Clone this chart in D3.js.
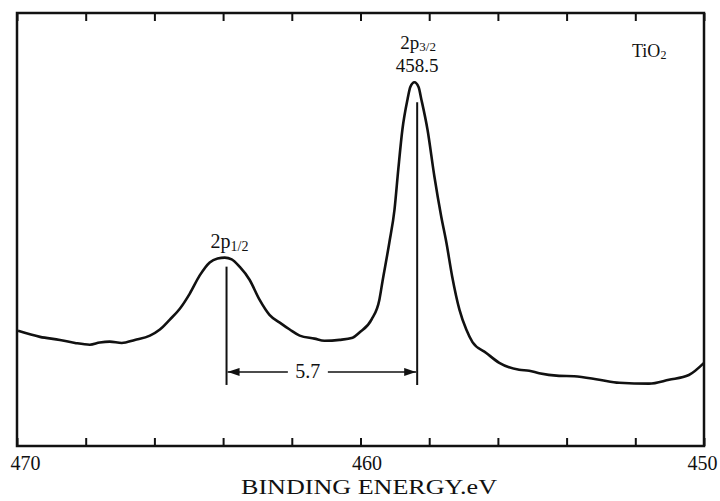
<!DOCTYPE html>
<html>
<head>
<meta charset="utf-8">
<script src="https://cdn.jsdelivr.net/npm/d3@7"></script>
<style>
  body { margin: 0; background: #fff; }
  svg text { font-family: "Liberation Serif", "Times New Roman", Times, "DejaVu Serif", "Noto Serif", serif; fill: #111; }
</style>
</head>
<body>
<div id="d3-container"></div>
<script>
// espectro XPS Ti 2p de TiO2
var energia = [469.97, 469.33, 468.75, 468.31, 467.88, 467.59, 467.30, 466.95, 466.57, 466.13,
  465.84, 465.55, 465.26, 464.97, 464.68, 464.39, 464.16, 463.95, 463.75, 463.52,
  463.23, 462.94, 462.65, 462.35, 462.06, 461.77, 461.34, 461.05, 460.61, 460.23,
  460.03, 459.68, 459.45, 459.36, 459.16, 459.01, 458.90, 458.78, 458.63, 458.55,
  458.43, 458.31, 458.23, 458.05, 457.85, 457.65, 457.50, 457.33, 457.12, 456.92,
  456.74, 456.34, 455.96, 455.38, 455.09, 454.80, 454.22, 453.78, 453.05, 452.47,
  451.60, 451.02, 450.44, 450.00];
var intensidad = [26.6, 25.2, 24.5, 23.8, 23.4, 23.9, 24.1, 23.8, 24.5, 25.5,
  26.9, 29.2, 31.7, 35.2, 39.4, 42.4, 43.3, 43.5, 43.1, 41.4,
  38.4, 33.8, 30.3, 28.5, 26.9, 25.5, 24.8, 24.3, 24.5, 25.0,
  26.2, 29.2, 33.8, 38.0, 47.0, 54.6, 63.9, 73.1, 80.1, 82.9,
  84.0, 82.9, 80.1, 73.1, 62.3, 53.0, 47.0, 39.1, 31.5, 26.9,
  24.0, 21.5, 19.2, 17.6, 17.4, 16.8, 16.2, 16.1, 15.3, 14.6,
  14.4, 15.3, 16.4, 19.2];

var ticksMayores = [470, 460, 450];
var ticksMenores = [470, 468, 466, 464, 462, 460, 458, 456, 454, 452, 450];

// picos marcados
var picoE = [463.9, 458.35];
var picoI = [43.5, 84.0];
var separacion = "5.7";
var nivelFlecha = 17.1;
var finLineas = 14.1;

var fuente = '"Liberation Serif", "Times New Roman", Times, serif';

var width = 720;
var height = 501;
var margin = { top: 13, bottom: 55, left: 17, right: 16 };

var svg = d3.select('#d3-container')
  .append('svg')
  .attr('width', width)
  .attr('height', height)
  .attr('font-family', fuente);

var x = d3.scaleLinear()
  .domain([470, 450])
  .range([margin.left, width - margin.right]);

var y = d3.scaleLinear()
  .domain([0, 100])
  .range([height - margin.bottom, margin.top]);

var defs = svg.append("defs");
defs.append("marker")
  .attr("id", "flecha")
  .attr("viewBox", "0 0 12 8")
  .attr("refX", 12).attr("refY", 4)
  .attr("markerWidth", 12).attr("markerHeight", 8)
  .attr("markerUnits", "userSpaceOnUse")
  .attr("orient", "auto")
  .append("path")
  .attr("d", "M0,0 L12,4 L0,8 Z")
  .attr("fill", "#111");

// ejes con ticks hacia adentro
function xAxis(g) {
  g.attr("transform", `translate(0,${height - margin.bottom})`)
    .call(d3.axisBottom(x).tickValues(ticksMenores).tickSizeInner(-8).tickSizeOuter(0)
      .tickFormat(d => ticksMayores.indexOf(d) >= 0 ? d : ""))
    .attr("font-family", fuente)
    .call(g => g.select(".domain").remove())
    .call(g => g.selectAll(".tick line").attr("stroke", "#111").attr("stroke-width", 2))
    .call(g => g.selectAll(".tick text")
      .attr("font-size", "20px")
      .attr("y", 10)
      .attr("dy", "0.71em")
      .attr("dx", d => d == 470 ? 8 : (d == 450 ? -2 : 6))
      .attr("fill", "#111"));
}

function xAxisTop(g) {
  g.attr("transform", `translate(0,${margin.top})`)
    .call(d3.axisTop(x).tickValues(ticksMenores).tickSizeInner(-8).tickSizeOuter(0).tickFormat(""))
    .call(g => g.select(".domain").remove())
    .call(g => g.selectAll(".tick line").attr("stroke", "#111").attr("stroke-width", 2));
}

svg.append("g").call(xAxis);
svg.append("g").call(xAxisTop);

// marco
svg.append("rect")
  .attr("x", margin.left)
  .attr("y", margin.top)
  .attr("width", width - margin.left - margin.right)
  .attr("height", height - margin.top - margin.bottom)
  .attr("fill", "none")
  .attr("stroke", "#111")
  .attr("stroke-width", 2.5);

// curva
var puntos = energia.map((e, i) => [e, intensidad[i]]);
var linea = d3.line()
  .x(d => x(d[0]))
  .y(d => y(d[1]))
  .curve(d3.curveMonotoneX);

svg.append("path")
  .datum(puntos)
  .attr("d", linea)
  .attr("fill", "none")
  .attr("stroke", "#111")
  .attr("stroke-width", 2.6)
  .attr("stroke-linejoin", "round");

// lineas verticales de los picos
svg.append("g")
  .selectAll("line")
  .data(picoE)
  .join("line")
    .attr("x1", d => x(d))
    .attr("x2", d => x(d))
    .attr("y1", (d, i) => y(picoI[i]) + (i == 0 ? 9 : 20))
    .attr("y2", y(finLineas))
    .attr("stroke", "#111")
    .attr("stroke-width", 2);

// flecha de separacion
var xm = (x(picoE[0]) + x(picoE[1])) / 2 - 14;
svg.append("line")
  .attr("x1", xm - 20).attr("x2", x(picoE[0]) + 1)
  .attr("y1", y(nivelFlecha)).attr("y2", y(nivelFlecha))
  .attr("stroke", "#111").attr("stroke-width", 1.5)
  .attr("marker-end", "url(#flecha)");
svg.append("line")
  .attr("x1", xm + 20).attr("x2", x(picoE[1]) - 1)
  .attr("y1", y(nivelFlecha)).attr("y2", y(nivelFlecha))
  .attr("stroke", "#111").attr("stroke-width", 1.5)
  .attr("marker-end", "url(#flecha)");
svg.append("text")
  .attr("x", xm)
  .attr("y", y(nivelFlecha) + 6)
  .attr("text-anchor", "middle")
  .attr("font-size", "20px")
  .text(separacion);

// etiquetas
var t1 = svg.append("text")
  .attr("x", x(picoE[0]) + 3)
  .attr("y", y(picoI[0]) - 10)
  .attr("text-anchor", "middle")
  .attr("font-size", "20px");
t1.append("tspan").text("2p");
t1.append("tspan").attr("font-size", "14px").attr("dy", 3).text("1/2");

var t2 = svg.append("text")
  .attr("x", x(picoE[1]) + 1)
  .attr("y", y(picoI[1]) - 33)
  .attr("text-anchor", "middle")
  .attr("font-size", "19px");
t2.append("tspan").text("2p");
t2.append("tspan").attr("font-size", "13px").attr("dy", 2).text("3/2");

svg.append("text")
  .attr("x", x(picoE[1]))
  .attr("y", y(picoI[1]) - 10)
  .attr("text-anchor", "middle")
  .attr("font-size", "19px")
  .text("458.5");

var t3 = svg.append("text")
  .attr("x", 632)
  .attr("y", 57)
  .attr("font-size", "18px");
t3.append("tspan").text("TiO");
t3.append("tspan").attr("font-size", "12px").attr("dy", 2).text("2");

svg.append("text")
  .attr("x", 369)
  .attr("y", 494)
  .attr("text-anchor", "middle")
  .attr("font-size", "21px")
  .attr("textLength", 256)
  .attr("lengthAdjust", "spacingAndGlyphs")
  .text("BINDING ENERGY.eV");
</script>
</body>
</html>
